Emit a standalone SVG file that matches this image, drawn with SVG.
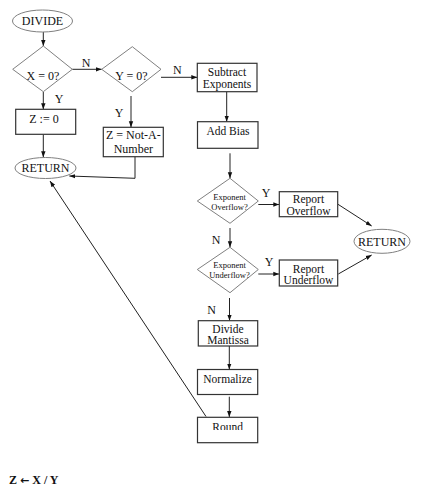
<svg xmlns="http://www.w3.org/2000/svg" width="421" height="488" viewBox="0 0 421 488">
<style>
text{font-family:"Liberation Serif","Times New Roman",serif;fill:#111;text-anchor:middle}
.t{font-size:12px}
.m{font-size:11.5px}
.s{font-size:8.5px}
.box{fill:#fff;stroke:#333;stroke-width:1.2}
.dia{fill:#fff;stroke:#808080;stroke-width:1}
.ell{fill:#fff;stroke:#808080;stroke-width:1}
.ln{fill:none;stroke:#222;stroke-width:1}
.ar{marker-end:url(#ah)}
.lab{font-size:12px}
</style>
<defs>
<marker id="ah" markerUnits="userSpaceOnUse" markerWidth="6" markerHeight="6" viewBox="0 0 6 6" refX="6" refY="3" orient="auto">
<path d="M0,0.8 L6,3 L0,5.2 Z" fill="#111"/>
</marker>
<clipPath id="rc"><rect x="197" y="417" width="61" height="13"/></clipPath>
</defs>
<rect width="421" height="488" fill="#fff"/>
<g id="connectors">
<line class="ln ar" x1="43.3" y1="32" x2="43.3" y2="46"/>
<line class="ln ar" x1="72.3" y1="69.3" x2="101.7" y2="69.3"/>
<line class="ln ar" x1="161" y1="77.3" x2="197.3" y2="77.3"/>
<line class="ln ar" x1="43.3" y1="92" x2="43.3" y2="109.3"/>
<line class="ln ar" x1="43.3" y1="134.3" x2="43.3" y2="157.3"/>
<line class="ln ar" x1="131" y1="96" x2="131" y2="127.3"/>
<polyline class="ln ar" points="135,156.7 135,178.3 69.3,176"/>
<line class="ln ar" x1="226.7" y1="91.7" x2="226.7" y2="121.7"/>
<line class="ln ar" x1="230" y1="153.3" x2="230" y2="178.3"/>
<line class="ln ar" x1="258.3" y1="204.5" x2="279.3" y2="204.5"/>
<line class="ln ar" x1="338" y1="204.3" x2="371.7" y2="226"/>
<line class="ln ar" x1="230" y1="228" x2="230" y2="247.3"/>
<line class="ln ar" x1="258.3" y1="274" x2="279.3" y2="274"/>
<line class="ln ar" x1="338.3" y1="274" x2="371.7" y2="255"/>
<line class="ln ar" x1="229.5" y1="298" x2="229.5" y2="320.7"/>
<line class="ln ar" x1="229.3" y1="346" x2="229.3" y2="369.5"/>
<line class="ln ar" x1="229.3" y1="396.7" x2="229.3" y2="417"/>
<line class="ln ar" x1="206" y1="416.5" x2="50" y2="181"/>
<text class="lab" x="86" y="67">N</text>
<text class="lab" x="177.3" y="73.5">N</text>
<text class="lab" x="59" y="103">Y</text>
<text class="lab" x="119" y="117">Y</text>
<text class="lab" x="266" y="197">Y</text>
<text class="lab" x="216" y="243.5">N</text>
<text class="lab" x="269" y="266">Y</text>
<text class="lab" x="211.7" y="314">N</text>
</g>
<g id="divide">
<ellipse class="ell" cx="42.5" cy="21" rx="30" ry="11"/>
<text class="t" x="42.5" y="25">DIVIDE</text>
</g>
<g id="x-zero">
<polygon class="dia" points="43.3,46 72.3,69.3 43.3,91.7 12.7,69.3"/>
<text class="t" x="43" y="80.3">X = 0?</text>
</g>
<g id="y-zero">
<polygon class="dia" points="132.3,46.7 161,69.3 132.3,91.7 101.7,69.3"/>
<text class="t" x="131.5" y="80.3">Y = 0?</text>
</g>
<g id="z-zero">
<rect class="box" x="15.7" y="109.3" width="60" height="25"/>
<text class="t" x="44" y="122.5">Z := 0</text>
</g>
<g id="return-left">
<ellipse class="ell" cx="45.5" cy="168" rx="30.5" ry="10.5"/>
<text class="t" x="45.5" y="172">RETURN</text>
</g>
<g id="z-nan">
<rect class="box" x="103.3" y="127.3" width="60" height="29.4"/>
<text class="t" x="133.3" y="139">Z = Not-A-</text>
<text class="t" x="133.3" y="153.3">Number</text>
</g>
<g id="subtract">
<rect class="box" x="197.3" y="63.3" width="59.7" height="28.4"/>
<text class="m" x="227" y="76">Subtract</text>
<text class="m" x="227" y="87.5">Exponents</text>
</g>
<g id="add-bias">
<rect class="box" x="197.5" y="121.7" width="60.5" height="26.6"/>
<text class="m" x="228" y="135">Add Bias</text>
</g>
<g id="overflow-check">
<polygon class="dia" points="230,178.3 258.3,201 230,223.3 197.3,201"/>
<text class="s" x="229.5" y="199.5">Exponent</text>
<text class="s" x="229.5" y="209.5">Overflow?</text>
</g>
<g id="report-overflow">
<rect class="box" x="279.3" y="191.7" width="58.4" height="25"/>
<text class="m" x="308.5" y="202.5">Report</text>
<text class="m" x="308.5" y="214.5">Overflow</text>
</g>
<g id="return-right">
<ellipse class="ell" cx="382" cy="241.3" rx="28" ry="12"/>
<text class="t" x="382" y="245.5">RETURN</text>
</g>
<g id="underflow-check">
<polygon class="dia" points="230,247.3 258.3,269.5 230,292.7 197.3,269.5"/>
<text class="s" x="229.5" y="267.5">Exponent</text>
<text class="s" x="229.5" y="277.5">Underflow?</text>
</g>
<g id="report-underflow">
<rect class="box" x="279.3" y="260" width="58.4" height="26"/>
<text class="m" x="308.5" y="272.5">Report</text>
<text class="m" x="308.5" y="284">Underflow</text>
</g>
<g id="divide-mantissa">
<rect class="box" x="198.3" y="320.7" width="59.4" height="25.3"/>
<text class="m" x="228" y="332.5">Divide</text>
<text class="m" x="228" y="344">Mantissa</text>
</g>
<g id="normalize">
<rect class="box" x="197.5" y="369.5" width="60.2" height="25"/>
<text class="m" x="227.6" y="383">Normalize</text>
</g>
<g id="round">
<rect class="box" x="197.5" y="417.3" width="60.2" height="25.4"/>
<text class="m" x="227.6" y="431" clip-path="url(#rc)">Round</text>
</g>
<text x="9" y="484" style="font-size:12px;font-weight:bold;text-anchor:start">Z <tspan style="font-family:'DejaVu Sans',sans-serif;font-size:11px">←</tspan> X / Y</text>
</svg>
